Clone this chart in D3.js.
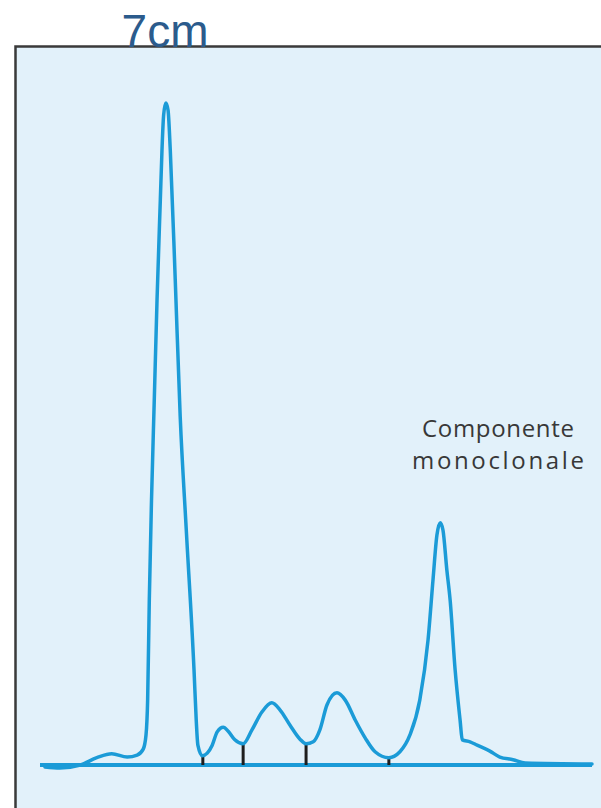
<!DOCTYPE html>
<html>
<head>
<meta charset="utf-8">
<script src="https://cdn.jsdelivr.net/npm/d3@7"></script>
<style>
  html, body { margin: 0; padding: 0; background: #ffffff; }
  svg { display: block; }
</style>
</head>
<body>
<svg id="chart" width="601" height="808"></svg>
<script>
// Electrophoresis trace (mobility units 0..100, relative density 0..100)
const mobility = [0.9, 3.6, 7.3, 10.3, 13.0, 15.8, 17.6, 18.7, 19.2, 19.5, 19.8, 20.2, 20.7, 21.2, 21.8, 22.1, 22.4, 22.8, 23.2, 23.6, 24.5, 25.4, 26.5, 27.9, 28.3, 28.6, 29.4, 30.3, 31.2, 32.1, 33.2, 34.1, 35.3, 36.8, 38.4, 40.2, 42.0, 43.5, 45.3, 47.1, 48.2, 49.5, 50.7, 52.0, 53.8, 55.3, 57.1, 58.9, 60.7, 63.2, 65.2, 67.0, 68.8, 70.3, 71.2, 71.9, 72.5, 73.0, 73.7, 74.3, 75.2, 76.1, 76.5, 77.9, 79.2, 81.5, 83.3, 85.7, 87.9, 100];
const density  = [-0.3, -0.45, 0, 1.1, 1.7, 1.2, 1.5, 2.4, 4.5, 9.8, 24.9, 40.0, 55.1, 70.2, 85.4, 92.9, 98.2, 100, 98.9, 92.9, 73.3, 52.6, 35.5, 14.4, 6.8, 3.0, 1.4, 1.8, 3.0, 5.0, 5.7, 5.1, 3.8, 3.2, 5.3, 8.0, 9.4, 8.3, 6.0, 3.9, 3.2, 3.5, 5.3, 9.1, 10.9, 9.8, 6.8, 4.1, 2.0, 1.1, 2.0, 4.5, 9.8, 18.9, 28.0, 34.7, 36.6, 35.5, 29.5, 24.9, 14.4, 6.8, 3.8, 3.5, 3.0, 2.1, 1.2, 0.8, 0.3, 0.15];
// Fraction separators (position, top of marker)
const separatorPos = [29.5, 36.8, 48.2, 63.2];
const separatorTop = [1.4, 3.2, 3.2, 1.1];
const titleText = "7cm";
const labelLines = ["Componente", "monoclonale"];
const labelWidths = [152, 172];

const svg = d3.select("#chart");

// panel
svg.append("rect").attr("x", 16).attr("y", 46.5).attr("width", 600).attr("height", 800)
  .attr("fill", "#e2f1fa");
svg.append("path").attr("d", "M15.5,808 L15.5,46.5 L601,46.5")
  .attr("fill", "none").attr("stroke", "#3a3a3a").attr("stroke-width", 2.5);

const x = d3.scaleLinear().domain([0, 100]).range([40, 592]);
const y = d3.scaleLinear().domain([0, 100]).range([765, 103]);

const blue = "#1b9bd7";

// baseline
svg.append("line")
  .attr("x1", x(0)).attr("x2", x(100)).attr("y1", y(0)).attr("y2", y(0))
  .attr("stroke", blue).attr("stroke-width", 4);

// separators
svg.selectAll("line.sep").data(separatorPos).join("line")
  .attr("class", "sep")
  .attr("x1", d => x(d)).attr("x2", d => x(d))
  .attr("y1", (d, i) => y(separatorTop[i])).attr("y2", y(0))
  .attr("stroke", "#1e1e1e").attr("stroke-width", 3);

// trace
const pts = mobility.map((m, i) => [m, density[i]]);
const line = d3.line().x(d => x(d[0])).y(d => y(d[1])).curve(d3.curveMonotoneX);
svg.append("path").datum(pts).attr("d", line)
  .attr("fill", "none").attr("stroke", blue).attr("stroke-width", 3.5)
  .attr("stroke-linejoin", "round").attr("stroke-linecap", "round");

// label (centred lines)
svg.selectAll("text.lab").data(labelLines).join("text")
  .attr("class", "lab")
  .attr("x", 498).attr("y", (d, i) => 437 + i * 31.5)
  .attr("text-anchor", "middle")
  .attr("font-family", "'Open Sans', sans-serif").attr("font-size", 24)
  .attr("textLength", (d, i) => labelWidths[i]).attr("lengthAdjust", "spacing")
  .attr("fill", "#383838").text(d => d);

// title
svg.append("text").attr("x", 165).attr("y", 47).attr("text-anchor", "middle")
  .attr("font-family", "'Liberation Sans', Arial, sans-serif").attr("font-size", 46)
  .attr("fill", "#2b5b8c").text(titleText);
</script>
</body>
</html>
